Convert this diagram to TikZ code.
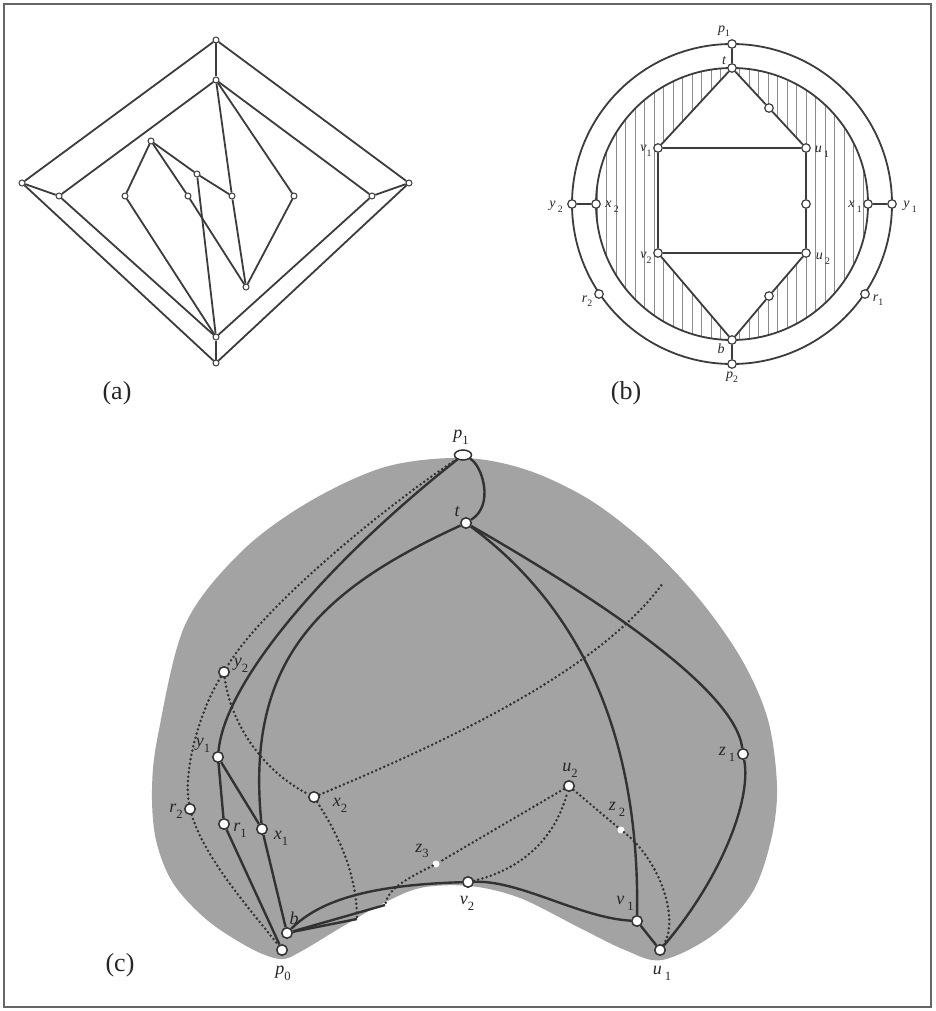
\documentclass[tikz,border=0pt]{standalone}
\usepackage{fontspec}
\setmainfont{Liberation Serif}
\usetikzlibrary{shapes.geometric}
\newcommand\sbs[1]{\raisebox{-0.32em}{\scalebox{0.7}{\upshape #1}}}
\definecolor{linec}{RGB}{60,60,60}
\definecolor{clinec}{RGB}{50,50,50}
\definecolor{blobc}{RGB}{163,163,163}
\definecolor{hatchc}{RGB}{140,140,140}
\begin{document}
\begin{tikzpicture}[x=1pt,y=-1pt,
  aline/.style={line width=1.8pt, draw=linec},
  anode/.style={circle, draw=linec, fill=white, line width=1pt, inner sep=0pt, minimum size=6pt},
  bnode/.style={circle, draw=linec, fill=white, line width=1.2pt, inner sep=0pt, minimum size=8.5pt},
  cnode/.style={circle, draw=clinec, fill=white, line width=1.5pt, inner sep=0pt, minimum size=10.5pt},
  cwdot/.style={circle, fill=white, inner sep=0pt, minimum size=7pt},
  cline/.style={line width=2.4pt, draw=clinec},
  cdots/.style={line width=2.8pt, draw=clinec, dash pattern=on 0pt off 4.4pt, line cap=round},
  blab/.style={font=\fontsize{14}{14}\selectfont\itshape, inner sep=0pt, text=black!85},
  clab/.style={font=\fontsize{18}{18}\selectfont\itshape, inner sep=0pt, text=black!85},
  plab/.style={font=\fontsize{26}{26}\selectfont, inner sep=0pt, text=black!85}]
\useasboundingbox (0,0) rectangle (935,1011);
\fill[white] (0,0) rectangle (935,1011);
\draw[line width=1.6pt, draw=black!60] (4,4) rectangle (931,1007);

% ---------- (a) ----------
\node[anode] (aT) at (216,40) {};
\node[anode] (aTi) at (216,80) {};
\node[anode] (aL) at (22,183) {};
\node[anode] (aLi) at (59,196) {};
\node[anode] (aR) at (409,183) {};
\node[anode] (aRi) at (372,196) {};
\node[anode] (aBi) at (216,337) {};
\node[anode] (aB) at (216,363) {};
\node[anode] (aA) at (151,141) {};
\node[anode] (aP) at (125,196) {};
\node[anode] (aC) at (188,196) {};
\node[anode] (aD) at (197,174) {};
\node[anode] (aE) at (232,196) {};
\node[anode] (aF) at (294,196) {};
\node[anode] (aG) at (246,287) {};
\draw[aline] (aT) -- (aL); \draw[aline] (aT) -- (aR);
\draw[aline] (aL) -- (aB); \draw[aline] (aR) -- (aB);
\draw[aline] (aT) -- (aTi); \draw[aline] (aBi) -- (aB);
\draw[aline] (aL) -- (aLi); \draw[aline] (aR) -- (aRi);
\draw[aline] (aTi) -- (aLi); \draw[aline] (aTi) -- (aRi);
\draw[aline] (aLi) -- (aBi); \draw[aline] (aRi) -- (aBi);
\draw[aline] (aTi) -- (aE); \draw[aline] (aTi) -- (aF);
\draw[aline] (aA) -- (aP); \draw[aline] (aA) -- (aD); \draw[aline] (aD) -- (aE);
\draw[aline] (aA) -- (aC); \draw[aline] (aC) -- (aG);
\draw[aline] (aE) -- (aG); \draw[aline] (aF) -- (aG);
\draw[aline] (aP) -- (aBi); \draw[aline] (aD) -- (aBi);
\node[plab] (la) at (117,393) {(a)};

% ---------- (b) ----------
\begin{scope}
  \clip (732,204) circle[radius=136pt];
  \foreach \x in {597,606.5,...,870} \draw[hatchc, line width=0.8pt] (\x,60) -- (\x,350);
\end{scope}
\fill[white] (732,68) -- (658,148) -- (658,253) -- (732,340) -- (806,253) -- (806,148) -- cycle;
\draw[aline] (732,204) circle[radius=160pt];
\draw[aline] (732,204) circle[radius=136pt];
\node[bnode] (bp1) at (732,44) {};
\node[bnode] (bt) at (732,68) {};
\node[bnode] (bv1) at (658,148) {};
\node[bnode] (bu1) at (806,148) {};
\node[bnode] (bv2) at (658,253) {};
\node[bnode] (bu2) at (806,253) {};
\node[bnode] (bm) at (806,204) {};
\node[bnode] (bq) at (769,108) {};
\node[bnode] (bs) at (769,296) {};
\node[bnode] (bb) at (732,340) {};
\node[bnode] (bp2) at (732,364) {};
\node[bnode] (by2) at (572,204) {};
\node[bnode] (bx2) at (596,204) {};
\node[bnode] (bx1) at (868,204) {};
\node[bnode] (by1) at (892,204) {};
\node[bnode] (br2) at (599,294) {};
\node[bnode] (br1) at (865,294) {};
\draw[aline] (bp1) -- (bt); \draw[aline] (bb) -- (bp2);
\draw[aline] (by2) -- (bx2); \draw[aline] (bx1) -- (by1);
\draw[aline] (bt) -- (bv1); \draw[aline] (bt) -- (bq); \draw[aline] (bq) -- (bu1);
\draw[aline] (bv1) -- (bu1); \draw[aline] (bv1) -- (bv2);
\draw[aline] (bu1) -- (bm); \draw[aline] (bm) -- (bu2);
\draw[aline] (bv2) -- (bu2); \draw[aline] (bv2) -- (bb);
\draw[aline] (bu2) -- (bs); \draw[aline] (bs) -- (bb);
\node[blab] at (724,31) {p\sbs{1}};
\node[blab] at (724,61) {t};
\node[blab] at (646,151) {v\sbs{1}};
\node[blab] at (822,152) {u\,\sbs{1}};
\node[blab] at (556,207) {y\,\sbs{2}};
\node[blab] at (612,207) {x\,\sbs{2}};
\node[blab] at (855,207) {x\,\sbs{1}};
\node[blab] at (910,207) {y\,\sbs{1}};
\node[blab] at (646,258) {v\sbs{2}};
\node[blab] at (823,259) {u\,\sbs{2}};
\node[blab] at (587,301) {r\sbs{2}};
\node[blab] at (878,300) {r\sbs{1}};
\node[blab] at (721,349) {b};
\node[blab] at (732,377) {p\sbs{2}};
\node[plab] (lb) at (626,393) {(b)};

% ---------- (c) ----------
\fill[blobc] plot[smooth cycle, tension=0.55] coordinates {
 (463,458) (527,470) (590,500) (648,545) (700,600) (742,660) (768,720) (777,787)
 (771,840) (752,893) (713,935) (662,960) (625,950) (580,928) (520,898) (470,886)
 (420,888) (380,905) (340,928) (300,952) (280,959) (250,948) (207,920) (173,883)
 (156,840) (152,790) (158,735) (185,625) (240,553) (307,503) (385,467)};
\node[cnode, ellipse, minimum width=17pt, minimum height=10pt] (p1) at (463,455) {};
\node[cnode] (t) at (466,523) {};
\node[cnode] (y2) at (224,672) {};
\node[cnode] (y1) at (218,757) {};
\node[cnode] (x2) at (314,797) {};
\node[cnode] (r2) at (190,809) {};
\node[cnode] (r1) at (224,824) {};
\node[cnode] (x1) at (262,829) {};
\node[cnode] (b) at (287,933) {};
\node[cnode] (p0) at (282,950) {};
\node[cwdot] (z3) at (436,864) {};
\node[cnode] (v2) at (468,882) {};
\node[cnode] (z1) at (743,754) {};
\node[cnode] (u2) at (569,786) {};
\node[cwdot] (z2) at (621,830) {};
\node[cnode] (v1) at (637,921) {};
\node[cnode] (u1) at (660,950) {};
\coordinate (xd) at (357,919);
\coordinate (zd) at (385,905);
\coordinate (xe) at (663,583);
% solid
\draw[cline] (p1) .. controls (482,465) and (495,505) .. (t);
\draw[cline] (p1) .. controls (330,560) and (225,680) .. (y1);
\draw[cline] (y1) -- (r1);
\draw[cline] (r1) -- (p0);
\draw[cline] (y1) -- (x1);
\draw[cline] (t) .. controls (320,590) and (245,660) .. (x1);
\draw[cline] (x1) -- (b);
\draw[cline] (t) .. controls (600,600) and (735,690) .. (z1);
\draw[cline] (z1) .. controls (752,800) and (720,880) .. (u1);
\draw[cline] (t) .. controls (570,600) and (640,720) .. (v1);
\draw[cline] (v1) -- (u1);
\draw[cline] (b) .. controls (320,900) and (370,885) .. (v2);
\draw[cline] (v2) .. controls (520,880) and (580,918) .. (v1);
\draw[cline] (b) -- (xd);
\draw[cline] (b) -- (zd);
% dotted
\draw[cdots] (p1) .. controls (380,510) and (260,610) .. (y2);
\draw[cdots] (y2) .. controls (200,710) and (183,770) .. (r2);
\draw[cdots] (r2) .. controls (205,860) and (255,915) .. (p0);
\draw[cdots] (y2) .. controls (230,720) and (260,770) .. (x2);
\draw[cdots] (x2) .. controls (450,740) and (600,670) .. (xe);
\draw[cdots] (x2) .. controls (335,830) and (357,870) .. (xd);
\draw[cdots] (u2) -- (z3);
\draw[cdots] (z3) .. controls (400,882) and (388,890) .. (zd);
\draw[cdots] (v2) .. controls (520,870) and (555,840) .. (u2);
\draw[cdots] (u2) -- (z2);
\draw[cdots] (z2) .. controls (660,860) and (680,920) .. (u1);
% labels
\node[clab] at (461,437) {p\sbs{1}};
\node[clab] at (457,512) {t};
\node[clab] at (241,665) {y\sbs{2}};
\node[clab] at (203,745) {y\sbs{1}};
\node[clab] at (176,811) {r\sbs{2}};
\node[clab] at (240,830) {r\sbs{1}};
\node[clab] at (281,838) {x\sbs{1}};
\node[clab] at (340,805) {x\sbs{2}};
\node[clab] at (422,851) {z\sbs{3}};
\node[clab] at (467,903) {v\sbs{2}};
\node[clab] at (294,918) {b};
\node[clab] at (283,973) {p\sbs{0}};
\node[clab] at (570,770) {u\sbs{2}};
\node[clab] at (617,809) {z\,\sbs{2}};
\node[clab] at (625,903) {v\,\sbs{1}};
\node[clab] at (662,973) {u\,\sbs{1}};
\node[clab] at (727,754) {z\,\sbs{1}};
\node[plab] (lc) at (120,965) {(c)};
\end{tikzpicture}
\end{document}
